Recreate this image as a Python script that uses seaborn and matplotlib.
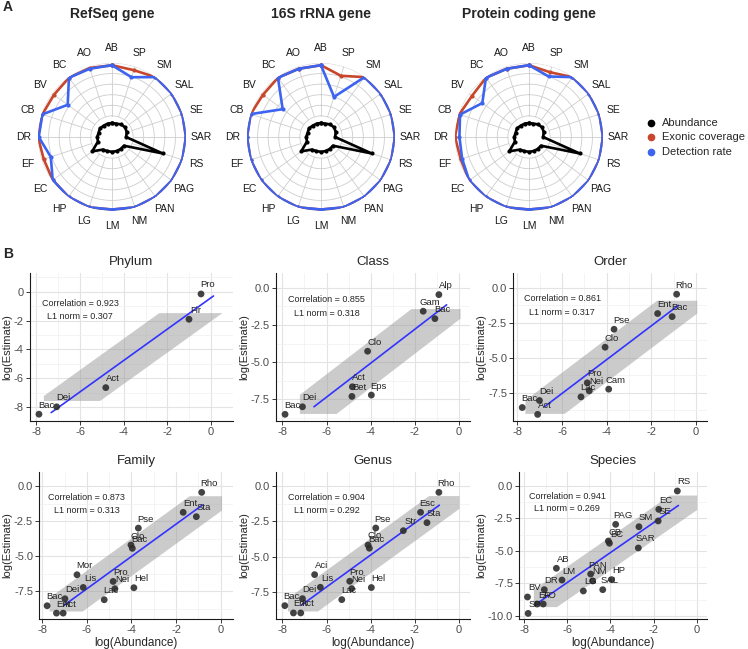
import numpy as np
import matplotlib
matplotlib.use("Agg")
import matplotlib.pyplot as plt
import seaborn as sns
from matplotlib.ticker import FixedLocator, MultipleLocator

# ---- radar data (panel A) ----
sites = ['AB', 'SP', 'SM', 'SAL', 'SE', 'SAR', 'RS', 'PAG', 'PAN', 'NM',
         'LM', 'LG', 'HP', 'EC', 'EF', 'DR', 'CB', 'BV', 'BC', 'AO']
abundance = [0.19, 0.19, 0.21, 0.22, 0.21, 0.19, 0.72, 0.2, 0.2, 0.2,
             0.2, 0.2, 0.21, 0.33, 0.2, 0.2, 0.19, 0.2, 0.19, 0.19]

refseq_exonic = [0.97, 0.95, 1.0, 1.0, 1.0, 1.0, 1.0, 1.0, 1.0, 1.0,
                 0.98, 1.0, 1.0, 0.99, 0.97, 1.0, 0.99, 0.97, 0.99, 0.98]
refseq_detect = [0.97, 0.85, 1.0, 1.0, 1.0, 1.0, 1.0, 1.0, 1.0, 1.0,
                 0.98, 1.0, 1.0, 0.99, 0.87, 0.99, 0.99, 0.74, 0.99, 0.97]

rrna_exonic = [0.97, 0.87, 1.0, 1.0, 1.0, 1.0, 1.0, 1.0, 1.0, 1.0,
               0.98, 1.0, 1.0, 1.0, 1.0, 1.0, 1.0, 0.97, 0.99, 0.97]
rrna_detect = [0.97, 0.57, 1.0, 1.0, 1.0, 1.0, 1.0, 1.0, 1.0, 1.0,
               0.98, 1.0, 1.0, 1.0, 1.0, 1.0, 1.0, 0.64, 0.99, 0.97]

protein_exonic = [0.97, 0.92, 1.0, 1.0, 1.0, 1.0, 1.0, 1.0, 1.0, 1.0,
                  0.98, 1.0, 1.0, 1.0, 0.97, 1.0, 0.99, 0.95, 0.99, 0.97]
protein_detect = [0.97, 0.86, 1.0, 1.0, 1.0, 1.0, 1.0, 1.0, 1.0, 1.0,
                  0.98, 1.0, 1.0, 1.0, 0.95, 0.94, 0.98, 0.78, 0.99, 0.97]

radar_titles = ['RefSeq gene', '16S rRNA gene', 'Protein coding gene']

# ---- scatter data (panel B) ----
phylum_taxa = ['Pro', 'Fir', 'Act', 'Dei', 'Bac']
phylum_abund = [-0.46, -1.01, -4.82, -7.07, -7.88]
phylum_est = [-0.16, -1.91, -6.64, -7.97, -8.48]

class_taxa = ['Alp', 'Gam', 'Bac', 'Clo', 'Act', 'Bet', 'Eps', 'Dei', 'Bac']
class_abund = [-0.91, -1.62, -1.09, -4.14, -4.83, -4.85, -3.97, -7.09, -7.88]
class_est = [-0.45, -1.57, -2.07, -4.27, -6.67, -7.32, -7.23, -8.02, -8.53]

order_taxa = ['Rho', 'Ent', 'Bac', 'Pse', 'Clo', 'Pro', 'Nei', 'Lac', 'Cam',
              'Dei', 'Bac', 'Act']
order_abund = [-0.87, -1.72, -1.07, -3.67, -4.07, -4.87, -4.78, -5.15, -3.91,
               -7.01, -7.78, -7.09]
order_est = [-0.47, -1.85, -2.07, -2.97, -4.25, -6.79, -7.36, -7.79, -7.24,
             -8.05, -8.55, -9.04]

family_taxa = ['Rho', 'Ent', 'Sta', 'Pse', 'Clo', 'Bac', 'Mor', 'Lis', 'Pro',
               'Nei', 'Hel', 'Lac', 'Dei', 'Bac', 'Ent', 'Act']
family_abund = [-0.85, -1.68, -1.09, -3.69, -4.02, -3.96, -6.44, -6.16, -4.82,
                -4.74, -3.89, -5.22, -6.98, -7.78, -7.36, -7.06]
family_est = [-0.43, -1.86, -2.17, -2.99, -4.20, -4.44, -6.33, -7.24, -6.81,
              -7.33, -7.26, -8.12, -8.05, -8.55, -9.08, -9.08]

genus_taxa = ['Rho', 'Esc', 'Sta', 'Str', 'Pse', 'Clo', 'Bac', 'Aci', 'Lis',
              'Pro', 'Nei', 'Hel', 'Lac', 'Dei', 'Bac', 'Ent', 'Act']
genus_abund = [-0.91, -1.74, -1.45, -2.52, -3.77, -4.12, -4.06, -6.54, -6.28,
               -4.95, -4.86, -3.97, -5.31, -7.09, -7.89, -7.50, -7.17]
genus_est = [-0.43, -1.85, -2.59, -3.16, -2.97, -4.18, -4.41, -6.29, -7.19,
             -6.76, -7.29, -7.21, -8.07, -8.00, -8.50, -9.02, -9.02]

species_taxa = ['RS', 'EC', 'SE', 'PAG', 'SM', 'CB', 'BC', 'SAR', 'AB', 'LM',
                'PAN', 'NM', 'HP', 'LG', 'SAL', 'DR', 'BV', 'EF', 'AO', 'SP']
species_abund = [-0.90, -1.76, -1.79, -3.76, -2.68, -4.10, -4.05, -2.71, -6.51,
                 -6.25, -4.92, -4.83, -3.95, -5.26, -4.36, -7.07, -7.85, -7.40,
                 -7.12, -7.82]
species_est = [-0.41, -1.82, -2.71, -2.97, -3.15, -4.25, -4.42, -4.78, -6.34,
               -7.24, -6.78, -7.31, -7.21, -8.08, -7.98, -7.98, -8.54, -9.08,
               -9.08, -9.80]

panel_titles = ['Phylum', 'Class', 'Order', 'Family', 'Genus', 'Species']
correlations = [0.923, 0.855, 0.861, 0.873, 0.904, 0.941]
l1_norms = [0.307, 0.318, 0.317, 0.313, 0.292, 0.269]

# fitted line span, shaded band span, band clipping and half width
fit_spans = [(-7.32, 0.11), (-6.57, -0.56), (-6.76, -0.79),
             (-7.03, -0.82), (-7.12, -0.89), (-7.43, -0.85)]
band_spans = [(-7.68, 0.49), (-7.23, 0.05), (-7.66, 0.03),
              (-7.69, 0.04), (-7.77, 0.0), (-7.58, 0.0)]
band_clips = [(-7.53, -1.45), (-8.47, -1.39), (-8.97, -0.90),
              (-8.93, -0.67), (-8.88, -0.66), (-9.28, -0.72)]
band_halfwidths = [1.57, 1.6, 1.54, 1.35, 1.24, 1.28]

# ---- figure ----
W, H = 748, 649
sns.set_theme(style="white")
plt.rcParams['font.family'] = ['Liberation Sans', 'DejaVu Sans']
plt.rcParams['axes.unicode_minus'] = False

fig = plt.figure(figsize=(W / 100, H / 100), dpi=100)


def px_rect(l, t, r, b):
    return [l / W, 1 - b / H, (r - l) / W, (b - t) / H]


overlay = fig.add_axes([0, 0, 1, 1])
overlay.set_xlim(0, W)
overlay.set_ylim(H, 0)
overlay.axis('off')

RED = '#C8462B'
BLUE = '#3C64F0'

overlay.text(3, 7, 'A', fontsize=10, fontweight='bold', va='center')
overlay.text(3, 254, 'B', fontsize=10, fontweight='bold', va='center')

radar_sets = [(refseq_exonic, refseq_detect), (rrna_exonic, rrna_detect),
              (protein_exonic, protein_detect)]
centers = [112, 321, 529]
R = 74
cy = 137
n = len(sites)
theta = np.arange(n) * 2 * np.pi / n
theta_c = np.append(theta, theta[0])
ring_t = np.linspace(0, 2 * np.pi, 361)

for k, (cx, (exonic, detect)) in enumerate(zip(centers, radar_sets)):
    ax = fig.add_axes(px_rect(cx - R, cy - R, cx + R, cy + R), projection='polar')
    ax.set_theta_offset(np.pi / 2)
    ax.set_theta_direction(-1)
    ax.set_ylim(0, 1)
    ax.axis('off')
    for r in np.arange(2, 8) / 7:
        ax.plot(ring_t, np.full_like(ring_t, r), color='#CDCDCD', lw=0.6, zorder=1)
    for t in theta:
        ax.plot([t, t], [2 / 7, 1], color='#CDCDCD', lw=0.6, zorder=1)
    ax.plot(theta_c, np.append(abundance, abundance[0]), color='black', lw=1.9,
            marker='o', ms=2, zorder=3)
    ax.plot(theta_c, np.append(exonic, exonic[0]), color=RED, lw=1.9,
            marker='o', ms=2, zorder=4)
    ax.plot(theta_c, np.append(detect, detect[0]), color=BLUE, lw=1.9,
            marker='o', ms=2, zorder=5)
    for t, s in zip(theta, sites):
        ax.text(t, 1.2, s, fontsize=7.5, ha='center', va='center', color='#1A1A1A')
    overlay.text(cx, 14, radar_titles[k], fontsize=10, fontweight='bold',
                 ha='center', va='center')

# legend for the radars
legend_items = [('Abundance', 'black'), ('Exonic coverage', RED), ('Detection rate', BLUE)]
for i, (lab, col) in enumerate(legend_items):
    yy = 123 + i * 14.3
    overlay.plot([651], [yy], 'o', color=col, ms=4.5)
    overlay.text(662, yy, lab, fontsize=8, va='center', ha='left')

# ---- scatter panels ----
panel_data = [(phylum_taxa, phylum_abund, phylum_est),
              (class_taxa, class_abund, class_est),
              (order_taxa, order_abund, order_est),
              (family_taxa, family_abund, family_est),
              (genus_taxa, genus_abund, genus_est),
              (species_taxa, species_abund, species_est)]

rects = [(30, 273.3, 232.7, 420.7), (276, 273.3, 470, 420.7), (513.3, 273.3, 707, 420.7),
         (39.3, 471.7, 232.7, 619), (276, 471.7, 470, 619), (519.3, 471.7, 707.3, 619)]
xlims = [(-8.29, 0.99), (-8.29, 0.5), (-8.18, 0.49),
         (-8.13, 0.54), (-8.29, 0.5), (-8.23, 0.49)]
ylims = [(-8.93, 1.27), (-8.96, 0.99), (-9.49, 1.02),
         (-9.5, 1.05), (-9.45, 1.04), (-10.23, 1.07)]
yticks = [[-8, -6, -4, -2, 0], [-7.5, -5, -2.5, 0], [-7.5, -5, -2.5, 0],
          [-7.5, -5, -2.5, 0], [-7.5, -5, -2.5, 0], [-10, -7.5, -5, -2.5, 0]]
xticks = [-8, -6, -4, -2, 0]

for i, (taxa, xa, ye) in enumerate(panel_data):
    l, t, r, b = rects[i]
    ax = fig.add_axes(px_rect(l, t, r, b))
    xa = np.array(xa)
    ye = np.array(ye)
    slope, icpt = np.polyfit(xa, ye, 1)

    # shaded band, clipped the way the original plot shows it
    xb = np.linspace(band_spans[i][0], band_spans[i][1], 300)
    yb = slope * xb + icpt
    lo = np.clip(yb - band_halfwidths[i], *band_clips[i])
    hi = np.clip(yb + band_halfwidths[i], *band_clips[i])
    ax.fill_between(xb, lo, hi, color='#999999', alpha=0.5, lw=0, zorder=2)

    xf = np.array(fit_spans[i])
    sns.lineplot(x=xf, y=slope * xf + icpt, ax=ax, color='#3333FF', lw=1.2, zorder=3)
    sns.scatterplot(x=xa, y=ye, ax=ax, color='#2E2E2E', s=24, edgecolor='none',
                    alpha=0.9, zorder=4)
    for name, xx, yy in zip(taxa, xa, ye):
        ax.annotate(name, (xx, yy), xytext=(7, 9), textcoords='offset pixels',
                    ha='center', va='center', fontsize=6.8, color='#222222', zorder=5)

    ax.text(-6, -0.8, f'Correlation = {correlations[i]:.3f}', fontsize=6.5,
            ha='center', va='center')
    ax.text(-6, -1.75, f'L1 norm = {l1_norms[i]:.3f}', fontsize=6.5,
            ha='center', va='center')

    ax.set_xlim(*xlims[i])
    ax.set_ylim(*ylims[i])
    ax.xaxis.set_major_locator(FixedLocator(xticks))
    ax.xaxis.set_minor_locator(MultipleLocator(1))
    ax.yaxis.set_major_locator(FixedLocator(yticks[i]))
    if i == 0:
        ax.set_yticklabels([f'{v:g}' for v in yticks[i]])
        ax.yaxis.set_minor_locator(MultipleLocator(1))
    else:
        ax.set_yticklabels([f'{v:.1f}' for v in yticks[i]])
        ax.yaxis.set_minor_locator(MultipleLocator(1.25))
    ax.set_xticklabels([f'{v:g}' for v in xticks])
    ax.grid(which='major', color='#E3E3E3', lw=0.8)
    ax.grid(which='minor', color='#F0F0F0', lw=0.5)
    ax.set_axisbelow(True)
    for side in ['top', 'right']:
        ax.spines[side].set_visible(False)
    for side in ['left', 'bottom']:
        ax.spines[side].set_color('#1A1A1A')
        ax.spines[side].set_linewidth(0.8)
    ax.tick_params(which='major', direction='out', length=3, width=0.6,
                   colors='#1A1A1A', labelsize=8, labelcolor='#4D4D4D',
                   left=True, bottom=True, pad=1.5)
    ax.tick_params(which='minor', length=0)
    ax.set_ylabel('log(Estimate)', fontsize=8, labelpad=1)
    ax.set_xlabel('log(Abundance)' if i >= 3 else '', fontsize=8.5, labelpad=1)
    overlay.text((l + r) / 2, t - 11, panel_titles[i], fontsize=9.5,
                 ha='center', va='center')

fig.savefig('out.png', dpi=100)
